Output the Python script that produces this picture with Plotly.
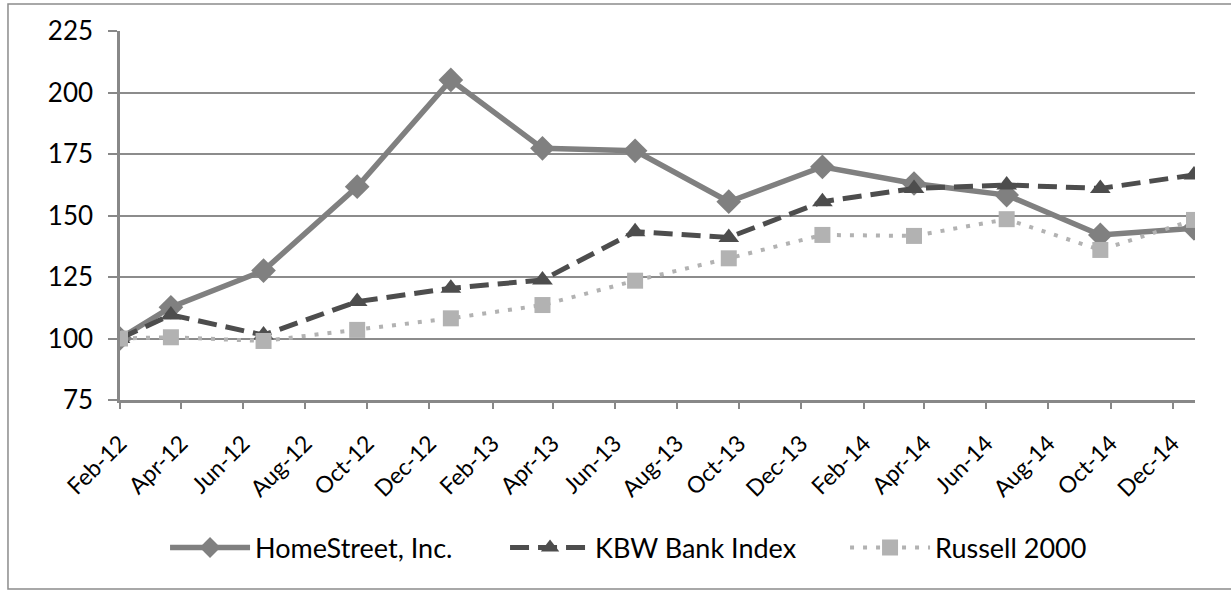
import plotly.graph_objects as go

dates = ["2012-02-10", "2012-03-31", "2012-06-30", "2012-09-30", "2012-12-31",
         "2013-03-31", "2013-06-30", "2013-09-30", "2013-12-31",
         "2014-03-31", "2014-06-30", "2014-09-30", "2014-12-31"]
homestreet = [100, 112.7, 127.6, 161.7, 205.1, 177.3, 176.3, 155.6, 169.8, 163.0, 158.3, 142.1, 144.8]
kbw = [100, 109.6, 101.4, 115.0, 120.4, 123.8, 143.4, 141.1, 155.6, 161.0, 162.4, 161.0, 166.5]
russell = [100, 100.5, 99.0, 103.5, 108.2, 113.6, 123.5, 132.6, 142.1, 141.7, 148.5, 136.0, 148.2]

tick_dates = ["2012-02-10", "2012-04-10", "2012-06-10", "2012-08-10", "2012-10-10", "2012-12-10",
              "2013-02-10", "2013-04-10", "2013-06-10", "2013-08-10", "2013-10-10", "2013-12-10",
              "2014-02-10", "2014-04-10", "2014-06-10", "2014-08-10", "2014-10-10", "2014-12-10"]
tick_labels = ["Feb-12", "Apr-12", "Jun-12", "Aug-12", "Oct-12", "Dec-12",
               "Feb-13", "Apr-13", "Jun-13", "Aug-13", "Oct-13", "Dec-13",
               "Feb-14", "Apr-14", "Jun-14", "Aug-14", "Oct-14", "Dec-14"]

FONT = "Lato, Roboto, 'Liberation Sans', sans-serif"

fig = go.Figure()
fig.add_trace(go.Scatter(
    x=dates, y=homestreet, name="HomeStreet, Inc.", mode="lines+markers",
    line=dict(color="#808080", width=5.5),
    marker=dict(symbol="diamond", size=19, color="#808080")))
fig.add_trace(go.Scatter(
    x=dates, y=kbw, name="KBW Bank Index", mode="lines+markers",
    line=dict(color="#4d4d4d", width=5, dash="19px,9px"),
    marker=dict(symbol="triangle-up", size=18, color="#4d4d4d")))
fig.add_trace(go.Scatter(
    x=dates, y=russell, name="Russell 2000", mode="lines+markers",
    line=dict(color="#b2b2b2", width=4, dash="4px,9px"),
    marker=dict(symbol="square", size=16, color="#b2b2b2")))

fig.update_layout(
    width=1231, height=591,
    margin=dict(l=120, r=36, t=31, b=191, autoexpand=False),
    paper_bgcolor="white", plot_bgcolor="white",
    font=dict(family=FONT, size=26, color="black"),
    showlegend=True,
    legend=dict(orientation="h", x=0.0419, xanchor="left", y=-0.401, yanchor="middle",
                font=dict(size=27), entrywidth=245, entrywidthmode="pixels",
                itemwidth=80, bgcolor="rgba(0,0,0,0)"),
    xaxis=dict(type="date", range=["2012-02-10", "2015-01-01"],
               tickvals=tick_dates, ticktext=tick_labels, tickangle=-45,
               tickfont=dict(size=23), automargin=False, ticklabelstandoff=12,
               showgrid=False, showline=True, linecolor="#888888", linewidth=2.5,
               ticks="outside", ticklen=6, tickcolor="#888888", tickwidth=1.5,
               zeroline=False),
    yaxis=dict(range=[75, 225], dtick=25, tick0=75, automargin=False,
               showgrid=True, gridcolor="#8c8c8c", gridwidth=1.5,
               showline=True, linecolor="#888888", linewidth=2.5,
               ticks="outside", ticklen=9, tickcolor="#888888", tickwidth=1.5,
               ticklabelstandoff=10,
               zeroline=False, tickfont=dict(size=26)),
    shapes=[dict(type="rect", xref="paper", yref="paper",
                 x0=-0.1042, x1=1.04, y0=-0.512, y1=1.0732,
                 line=dict(color="#8c8c8c", width=1.5), layer="below")],
)

fig.write_html("out.html", config={"displayModeBar": False},
               post_script="document.body.style.margin='0';")
